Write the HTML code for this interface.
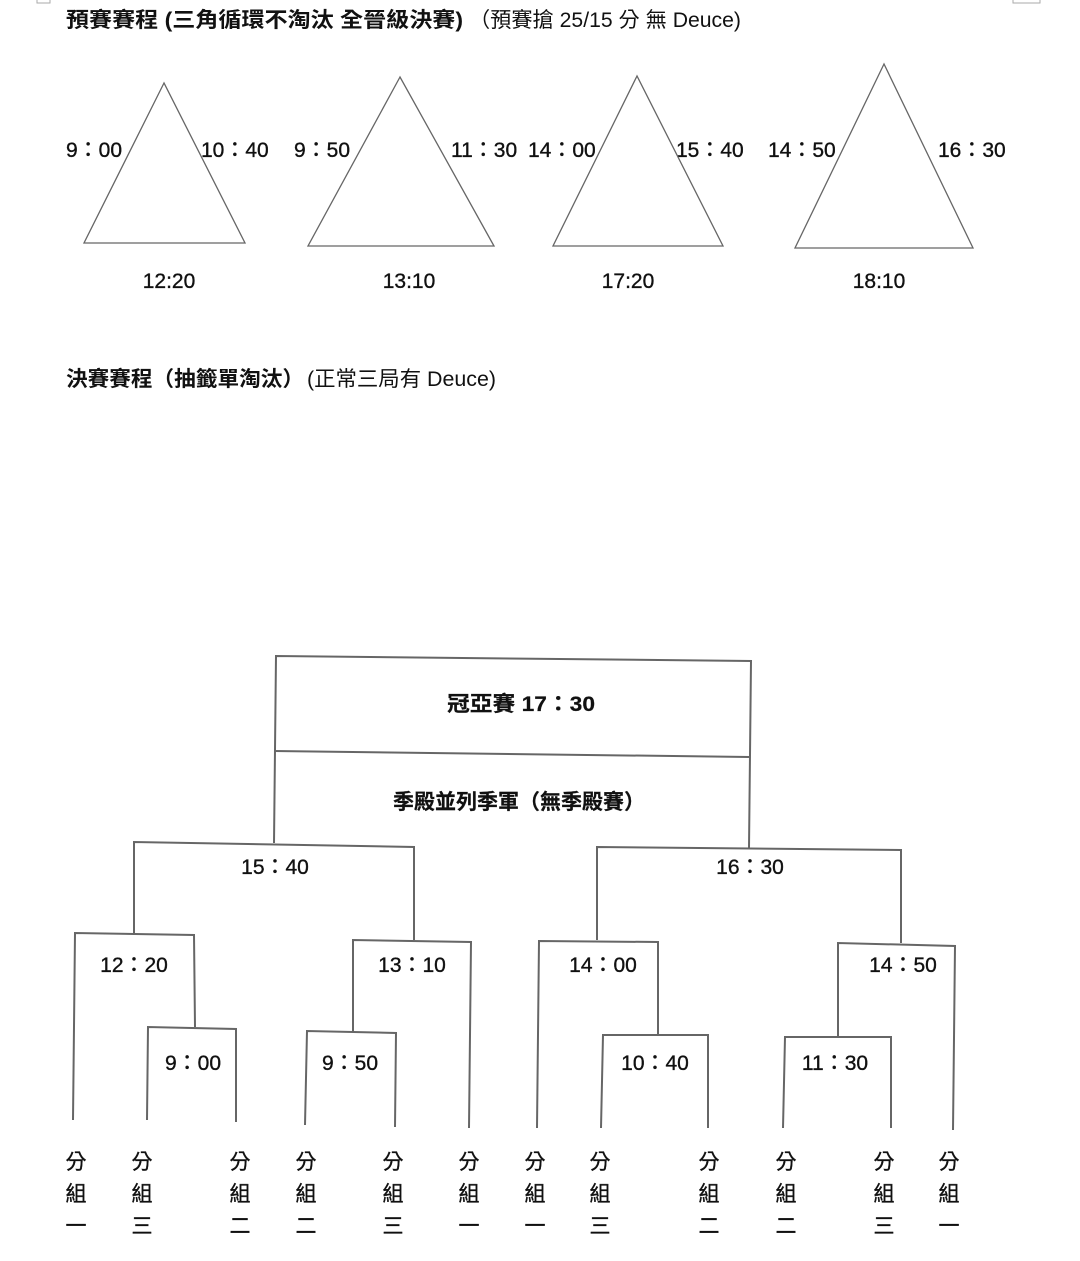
<!DOCTYPE html>
<html><head><meta charset="utf-8"><style>
html,body{margin:0;padding:0;background:#fff;width:1080px;height:1261px;overflow:hidden}
svg{display:block}
text{font-family:"Liberation Sans","Noto Sans CJK TC",sans-serif;fill:#111;font-size:21px}
.b{font-weight:bold;stroke:#111;stroke-width:0.2}
.m{stroke:#111;stroke-width:0.35}
</style></head><body>
<svg width="1080" height="1261" viewBox="0 0 1080 1261">
<g fill="none" stroke="#aaa" stroke-width="1">
<polyline points="37,0 37,3 50,3 50,0"/>
<polyline points="1013,0 1013,3 1040,3 1040,0"/>
</g>
<text x="66" y="27" font-weight="bold" textLength="397" lengthAdjust="spacingAndGlyphs">預賽賽程 (三角循環不淘汰 全晉級決賽)</text>
<text x="469" y="27" textLength="272" lengthAdjust="spacingAndGlyphs">（預賽搶 25/15 分  無 Deuce)</text>
<g class="m">
<text x="66" y="157">9：00</text>
<text x="201" y="157">10：40</text>
<text x="294" y="157">9：50</text>
<text x="451" y="157">11：30</text>
<text x="528" y="157">14：00</text>
<text x="676" y="157">15：40</text>
<text x="768" y="157">14：50</text>
<text x="938" y="157">16：30</text>
</g>
<g fill="none" stroke="#666" stroke-width="1.3">
<polygon points="164,83 84,243 245,243"/>
<polygon points="400,77 308,246 494,246"/>
<polygon points="637,76 553,246 723,246"/>
<polygon points="884,64 795,248 973,248"/>
</g>
<g text-anchor="middle" class="m">
<text x="169" y="288">12:20</text>
<text x="409" y="288">13:10</text>
<text x="628" y="288">17:20</text>
<text x="879" y="288">18:10</text>
</g>
<text x="66" y="386" font-weight="bold" textLength="238" lengthAdjust="spacingAndGlyphs">決賽賽程（抽籤單淘汰）</text>
<text x="307" y="386" textLength="189" lengthAdjust="spacingAndGlyphs">(正常三局有 Deuce)</text>

<g fill="none" stroke="#666" stroke-width="2">
<polyline points="274,843 276,656 751,661 749,848"/>
<line x1="274" y1="751" x2="749" y2="757"/>
<polyline points="134,935 134,842 414,847 414,940"/>
<polyline points="597,940 597,847 901,850 901,943"/>
<polyline points="73,1120 75,933 194,935 195,1027"/>
<polyline points="147,1120 148,1027 236,1029 236,1122"/>
<polyline points="353,1032 353,940 471,942 469,1128"/>
<polyline points="305,1125 307,1031 396,1033 395,1127"/>
<polyline points="537,1128 539,941 658,942 658,1035"/>
<polyline points="601,1128 603,1035 708,1035 708,1128"/>
<polyline points="838,1037 838,943 955,946 953,1130"/>
<polyline points="783,1128 785,1037 891,1037 891,1128"/>
</g>
<g class="b">
<text x="447" y="711" textLength="148" lengthAdjust="spacingAndGlyphs">冠亞賽 17：30</text>
<text x="393" y="809" textLength="252" lengthAdjust="spacingAndGlyphs">季殿並列季軍（無季殿賽）</text>
</g>
<g text-anchor="middle" class="m">
<text x="275" y="874">15：40</text>
<text x="750" y="874">16：30</text>
<text x="134" y="972">12：20</text>
<text x="412" y="972">13：10</text>
<text x="603" y="972">14：00</text>
<text x="903" y="972">14：50</text>
<text x="193" y="1070">9：00</text>
<text x="350" y="1070">9：50</text>
<text x="655" y="1070">10：40</text>
<text x="835" y="1070">11：30</text>
</g>
<g text-anchor="middle" class="m">
<g transform="translate(76,0)"><text y="1169">分</text><text y="1201">組</text><text y="1233">一</text></g>
<g transform="translate(142,0)"><text y="1169">分</text><text y="1201">組</text><text y="1233">三</text></g>
<g transform="translate(240,0)"><text y="1169">分</text><text y="1201">組</text><text y="1233">二</text></g>
<g transform="translate(306,0)"><text y="1169">分</text><text y="1201">組</text><text y="1233">二</text></g>
<g transform="translate(393,0)"><text y="1169">分</text><text y="1201">組</text><text y="1233">三</text></g>
<g transform="translate(469,0)"><text y="1169">分</text><text y="1201">組</text><text y="1233">一</text></g>
<g transform="translate(535,0)"><text y="1169">分</text><text y="1201">組</text><text y="1233">一</text></g>
<g transform="translate(600,0)"><text y="1169">分</text><text y="1201">組</text><text y="1233">三</text></g>
<g transform="translate(709,0)"><text y="1169">分</text><text y="1201">組</text><text y="1233">二</text></g>
<g transform="translate(786,0)"><text y="1169">分</text><text y="1201">組</text><text y="1233">二</text></g>
<g transform="translate(884,0)"><text y="1169">分</text><text y="1201">組</text><text y="1233">三</text></g>
<g transform="translate(949,0)"><text y="1169">分</text><text y="1201">組</text><text y="1233">一</text></g>
</g>
</svg>
</body></html>
